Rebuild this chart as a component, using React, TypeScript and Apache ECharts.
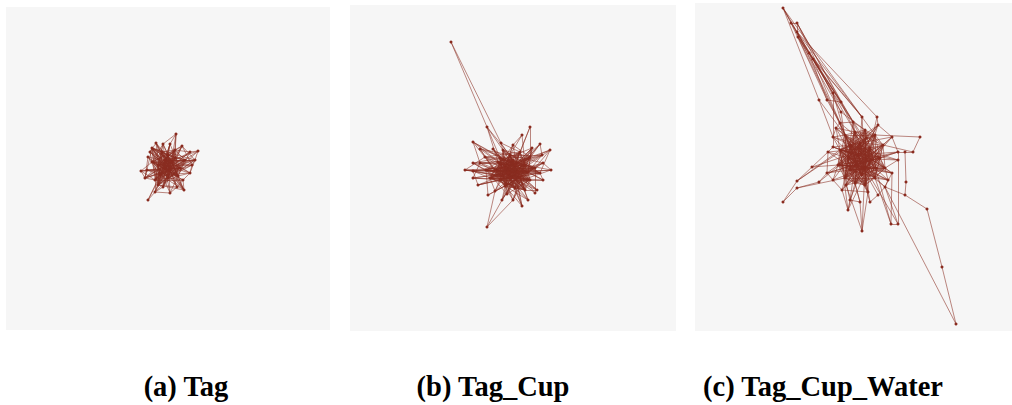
import React, { useEffect, useRef } from "react";
import * as echarts from "echarts";

// ---- panel (a) Tag ----
const nodesA: number[][] = [
  [176,134],[156,143],[163,144],[170,144],[182,146],[198,151],[190,152],[150,152],[148,157],[141,171],
  [147,170],[192,165],[190,173],[183,180],[177,187],[163,187],[170,193],[155,192],[148,200],[175,158],
  [165,160],[158,165],[170,170],[160,175],[180,168],[168,178],[155,180],[185,160],[175,150],[162,152],
  [152,162],[178,176],[165,168],[172,162],[158,185],[184,190],[152,148],[195,160],[145,178],[168,155],
];
const adjA: number[][] = [
  [2,3,19,28,22],[7,20,29,33,23,22,32],[21,25,30,39,26,31],[20,24,32,15,23,34],[19,22,26,11,25,30],[6,24,27,37,21],[28,31,33,23,26],[30,32,36,22,24,31],[21,23,38,25,33],[10,26,30,22,24],
  [23,38,32,31,24],[12,25,30,37,21,26],[13,31,23,20,30,36],[14,25,26,30,21],[16,22,34,29,36],[17,25,33,19,28,27],[17,31,21,29,39],[18,26,34,24,33,39],[23,32],[20,25,27,33],
  [21,22,26,31],[23,34],[25,27,30,36],[26,29,31],[27,32,36],[34,39],[29,38],[28,39],[29,32],[36],
  [34,39],[33],[35],[38],[35],[13],[39],[12,4],[9],[4],
];
const coreA: number[][] = [
  [],[],[],[],[],[],[],[],[],[],
  [],[],[],[],[],[],[],[],[],[21,23,26,30,34,38,29,36],
  [24,25,27,28,33,35,37],[24,27,28,31,33,37],[23,24,28,29,31,34,38,39],[24,27,33,35,36,39],[25,26,29,30,34,38],[26,28,30,36,37],[27,28,33,36,39],[29,30,31,34],[30,31,34,38],[30,31,34,35],
  [31,33,35],[32,34,36,39],[33,34,36,37,39],[34,35,36,37],[36,37,39],[36,39],[37,38],[38],[],[],
];

// ---- panel (b) Tag_Cup ----
const nodesB: number[][] = [
  [451,42],[487,127],[487,227],[530,127],[522,135],[473,142],[501,143],[480,149],[493,149],[513,145],
  [540,144],[550,150],[465,170],[473,163],[473,171],[473,178],[480,163],[551,170],[543,180],[543,163],
  [537,190],[528,200],[522,206],[513,200],[507,194],[495,191],[502,200],[542,155],[478,185],[485,157],
  [500,158],[510,155],[520,152],[530,157],[535,168],[525,165],[515,165],[505,168],[495,170],[490,178],
  [500,180],[510,178],[520,178],[530,180],[525,190],[515,188],[505,186],[498,162],[518,172],[528,172],
  [508,173],[513,160],[486,170],[540,173],[532,148],[503,150],[535,193],[488,195],
];
const adjB: number[][] = [
  [1,6],[30,31,55,47],[25,23,26],[32,36,33],[31,9,35],[16,30,38,36,42],[36,41,32],[38,47,31,40,35],[30,50,42,44,36],[48,37,33,40,39],
  [35,41,27,46,50],[34,36,53,38,41],[14,38,37,29,49,41],[30,50,52,45,35],[39,41,36,43,49],[40,48,16,41,50],[47,51,42,44,36],[35,49,19,46,38],[36,41,53,40,30],[31,40,34,46,39],
  [37,48,44,41,30],[36,42,46,38,47],[31,40,45,37,51],[38,49,35,33,47],[30,43,32,35,52],[37,48,39,42,51],[41,33,50,35,48],[38,45,31,40,39],[40,50,14,49,41],[32,48,30,50,35],
  [35,43,51,40],[36,41,44,38],[38,46,40],[39,45,50],[40,47,50,46],[41,46,39],[43,47,52],[44,49,55],[45,42,51],[44,51],
  [49,53],[47,53,54],[52,55,57],[47,51],[50,54],[52,48],[48,51],[49,53],[55,56],[52,51],
  [54,56],[53],[57],[55],[36],[33],[34],[46],
];
const coreB: number[][] = [
  [],[],[],[],[],[],[],[],[],[],
  [],[],[],[],[],[],[],[],[],[],
  [],[],[],[],[],[],[],[],[],[],
  [33,34,36,41,44,46,49,53],[37,40,42,46,48,50,53],[35,37,39,41,43,44,47,50],[36,37,38,40,41,46,52],[36,37,38,39,41,42,51,55],[37,38,40,42,45,47,50],[38,39,40,44,45,46,50],[39,40,41,42,43,45,53],[39,41,43,44,48,49,50],[40,42,43,45,47,48,49],
  [41,43,44,46,47,51,55],[42,43,49,51,52],[43,44,47,48,50],[44,45,46,49,52],[45,46,47,48],[46,47,49,50,51],[47,49,50,55],[48,50,52,54],[49,51,52,54],[50,53,54],
  [51,52,53],[52,55],[],[],[],[],[],[],
];

// ---- panel (c) Tag_Cup_Water ----
const nodesC: number[][] = [
  [783,8],[791,23],[797,23],[797,32],[798,37],[809,53],[813,59],[819,100],[827,100],[833,93],
  [841,102],[841,112],[862,117],[877,117],[920,137],[913,152],[905,152],[906,182],[905,195],[927,209],
  [942,267],[956,324],[783,202],[797,181],[797,188],[812,167],[819,182],[848,210],[862,231],[891,224],
  [898,224],[870,202],[860,202],[878,195],[850,200],[833,180],[833,137],[833,147],[828,152],[892,137],
  [898,152],[898,160],[885,187],[892,173],[827,173],[840,123],[853,122],[845,135],[855,132],[865,130],
  [875,135],[883,145],[880,158],[885,168],[875,178],[865,185],[855,183],[845,178],[838,165],[840,150],
  [850,145],[860,143],[870,148],[872,160],[865,168],[855,165],[848,158],[858,155],[862,175],[850,170],
  [878,125],[868,192],[842,190],[888,180],[836,128],[866,138],[846,185],[876,168],
];
const adjC: number[][] = [
  [1,7,12,5,9],[2,5,8,10],[3,10,46,11],[4,13,45,12],[6,11,47,10],[8,9,46,12],[12,10,48,45],[36,47],[45,10],[47,36,46],
  [48,62],[49,66],[50,61,64],[70,62],[15,50],[16,51],[40,17],[18],[42,19],[20],
  [21],[42],[23,24],[25,59,60],[26,57],[38,58,62],[44,66],[34,56,72,63,59],[32,76,71,64],[30,54,43,62],
  [42,41,64],[33,55,61],[34,56,66],[42,60],[57,62,65],[72,58,44,64,61],[37,47,59,62,64,52],[38,60,63,53,67],[44,66,62,68],[40,51,70,61,64,57],
  [41,52,65,58,67],[53,59,66,60],[43,64,59],[53,77,60,65,58],[58,64,63,52],[46,47,62,66,68],[48,49,65,57,63],[49,55,60,65,67,74,61],[50,57,61,64,66],[51,56,62,68,59],
  [52,58,63,67,75],[53,57,65,69,62],[54,59,60,68,64],[55,61,66,69,63],[56,62,65,67,58],[57,63,60,69],[58,64,61,67],[59,65,62,63,74],[60,68,66,77],[61,69,67,75],
  [62,64,77],[63,68,69],[64,66,71],[65,67,76],[66,69,73],[68,70],[67,75,77],[69,71],[70,75],[77,73],
  [60,66,65,58],[55,72,61,59],[57,62,64],[42,53,54,60,65],[36,45,48,63,68],[55,65,57,69],[65,68,56,62,60],[49,56,58,47],
];
const coreC: number[][] = [
  [],[],[],[],[],[],[],[],[],[],
  [],[],[],[],[],[],[],[],[],[],
  [],[],[],[],[],[],[],[],[],[],
  [],[],[],[],[],[],[],[],[],[],
  [],[],[],[],[],[],[],[50,52,53,57,58,63,64,68,69],[51,52,54,55,58,60,62,65,69],[50,53,55,57,58,64,66,67],
  [51,54,55,56,59,61,64,66],[52,54,55,56,58,61,63,66],[53,55,56,57,58,62,65,67],[54,56,57,58,60,62,64],[55,57,59,60,61,63],[56,58,59,62,64,66],[57,59,60,62,63,65],[58,60,61,64,66,67],[59,61,62,63,64,65],[60,62,63,64,65,66],
  [61,63,65,66,67,68,69],[62,64,65,66,67],[63,65,67,68,69],[64,66,68,69],[65,67,68],[66,67,69],[68,69],[68],[],[],
  [],[],[],[],[],[],[],[],
];

const captions = ["(a) Tag", "(b) Tag_Cup", "(c) Tag_Cup_Water"];

const panels = [
  { nodes: nodesA, adj: adjA, core: coreA, left: 6, top: 7, right: 330, bottom: 330, cap: 186 },
  { nodes: nodesB, adj: adjB, core: coreB, left: 350, top: 5, right: 676, bottom: 331, cap: 493 },
  { nodes: nodesC, adj: adjC, core: coreC, left: 695, top: 3, right: 1012, bottom: 331, cap: 823 },
];

const LINE = "rgba(138,44,32,0.75)";
const NODE = "#8a2b1f";

export default function App() {
  const ref = useRef<HTMLDivElement>(null);
  useEffect(() => {
    document.body.style.margin = "0";
    if (!ref.current) return;
    const chart = echarts.init(ref.current, undefined, { renderer: "svg" });
    const grid = panels.map((p) => ({
      left: p.left, top: p.top, width: p.right - p.left, height: p.bottom - p.top,
      show: true, backgroundColor: "#f6f6f6", borderWidth: 0,
    }));
    const xAxis = panels.map((p, i) => ({
      type: "value", gridIndex: i, min: p.left, max: p.right, show: false,
    }));
    const yAxis = panels.map((p, i) => ({
      type: "value", gridIndex: i, min: p.top, max: p.bottom, inverse: true, show: false,
    }));
    const series = panels.map((p, i) => {
      const links: { source: number; target: number }[] = [];
      p.adj.forEach((list, s) => list.forEach((t) => links.push({ source: s, target: t })));
      p.core.forEach((list, s) => list.forEach((t) => links.push({ source: s, target: t })));
      return {
        type: "graph",
        coordinateSystem: "cartesian2d",
        xAxisIndex: i,
        yAxisIndex: i,
        symbol: "circle",
        symbolSize: 3,
        itemStyle: { color: NODE },
        lineStyle: { color: LINE, width: 0.75, opacity: 1 },
        data: p.nodes.map((n) => ({ value: n })),
        links,
        silent: true,
        z: 2,
      };
    });
    chart.setOption({
      animation: false,
      backgroundColor: "#ffffff",
      grid,
      xAxis,
      yAxis,
      series,
      graphic: panels.map((p, i) => ({
        type: "text",
        x: p.cap,
        y: 386,
        style: {
          text: captions[i],
          font: 'bold 28.5px "Liberation Serif"',
          fill: "#000000",
          textAlign: "center",
          textVerticalAlign: "middle",
        },
      })),
    });
    return () => chart.dispose();
  }, []);
  return <div ref={ref} style={{ width: 1012, height: 405 }} />;
}
